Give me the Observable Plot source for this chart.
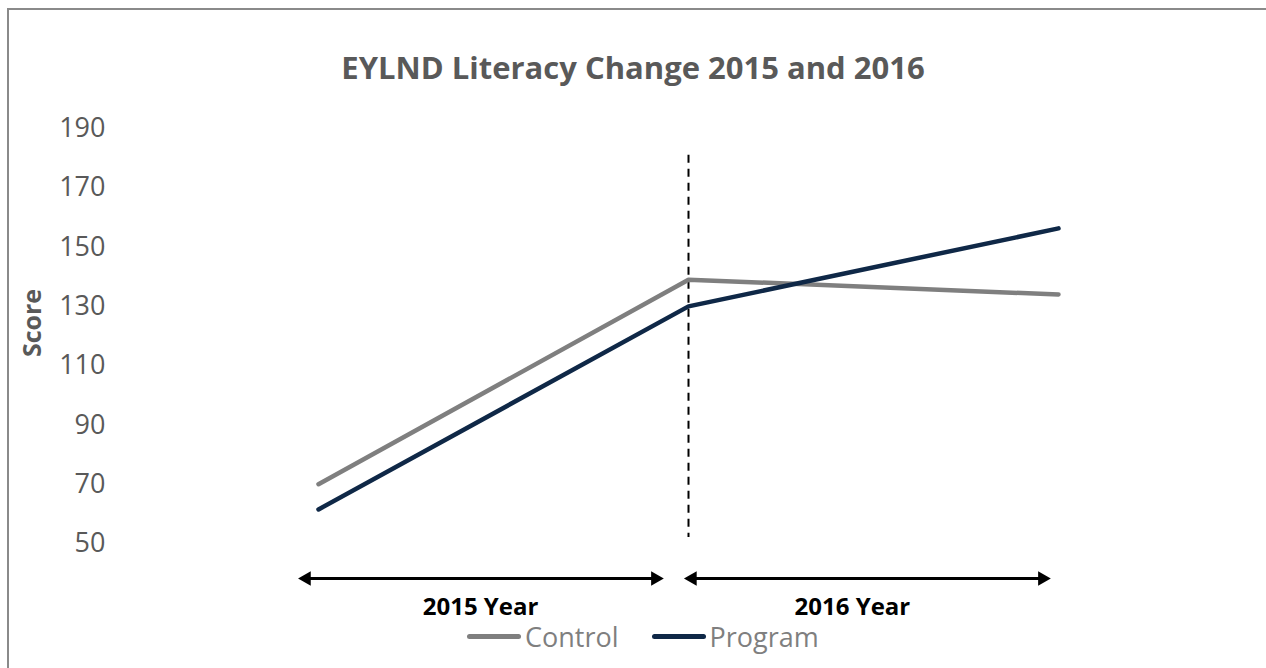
<!DOCTYPE html>
<html>
<head>
<meta charset="utf-8">
<script src="https://cdn.jsdelivr.net/npm/d3@7"></script>
<script src="https://cdn.jsdelivr.net/npm/@observablehq/plot@0.6"></script>
<style>
  html, body { margin: 0; padding: 0; background: #fff; }
  body { width: 1266px; height: 668px; position: relative; overflow: hidden; font-family: "Open Sans", sans-serif; }
  #frame { position: absolute; left: 7px; top: 8px; width: 1300px; height: 700px; border-top: 2px solid #8a8a8a; border-left: 2px solid #8a8a8a; }
  #title { position: absolute; left: 0; width: 1266px; top: 46px; text-align: center; font-weight: bold; font-size: 31px; color: #595959; }
  #chart { position: absolute; left: 0; top: 0; }
  #legend { position: absolute; top: 618px; left: 467px; display: flex; align-items: center; font-size: 27px; color: #7f7f7f; }
  .sw { display: inline-block; width: 54px; height: 5px; border-radius: 3px; margin-right: 4px; }
  .item { display: flex; align-items: center; margin-right: 33px; }
</style>
</head>
<body>
<div id="frame"></div>
<div id="title">EYLND Literacy Change 2015 and 2016</div>
<div id="chart"></div>
<div id="legend"></div>
<script>
// ---- data ----
const timePoints = [0, 1, 2];           // start 2015, end 2015 / start 2016, end 2016
const seriesNames = ["Control", "Program"];
const controlScores = [70, 139, 134];
const programScores = [61.5, 130, 156.3];
const seriesColors = ["#7f7f7f", "#0f2847"];
const yTicks = [50, 70, 90, 110, 130, 150, 170, 190];
const periodLabels = ["2015 Year", "2016 Year"];
const periodStart = [-0.054, 0.989];
const periodEnd = [0.932, 1.978];
const periodLabelX = [0.438, 1.443];
const dividerX = [1];

// ---- build tables ----
const rows = [];
timePoints.forEach((t, i) => {
  rows.push({t, score: controlScores[i], series: "Control"});
});
timePoints.forEach((t, i) => {
  rows.push({t, score: programScores[i], series: "Program"});
});
const periods = periodLabels.map((label, i) => ({label, x1: periodStart[i], x2: periodEnd[i], lx: periodLabelX[i]}));

const arrowY = 38.2;
const labelY = 28.6;

const chart = Plot.plot({
  width: 1266,
  height: 668,
  marginLeft: 115,
  marginRight: 208,
  marginTop: 128,
  marginBottom: 125,
  style: {fontFamily: "'Open Sans', sans-serif", background: "transparent", overflow: "visible"},
  x: {domain: [0, 2], insetLeft: 203, axis: null},
  y: {domain: [50, 190], axis: null},
  color: {domain: seriesNames, range: seriesColors},
  marks: [
    Plot.axisY(yTicks, {tickSize: 0, tickPadding: 10, fontSize: 27, color: "#595959", label: null}),
    Plot.text(["Score"], {frameAnchor: "left", textAnchor: "middle", rotate: -90, dx: -83, dy: -13, fontSize: 25, fontWeight: "bold", fill: "#595959"}),
    Plot.ruleX(dividerX, {y1: 181, y2: 52, stroke: "#000", strokeWidth: 2, strokeDasharray: "8,6"}),
    Plot.line(rows, {x: "t", y: "score", z: "series", stroke: "series", strokeWidth: 4.5, curve: "linear"}),
    Plot.link(periods, {x1: d => d.x1 + 0.03, x2: d => d.x2 - 0.03, y1: arrowY, y2: arrowY, stroke: "#000", strokeWidth: 3, clip: false}),
    Plot.dot(periods, {x: "x1", y: arrowY, symbol: "triangle2", r: 7, rotate: -90, fill: "#000", dx: 8}),
    Plot.dot(periods, {x: "x2", y: arrowY, symbol: "triangle2", r: 7, rotate: 90, fill: "#000", dx: -8}),
    Plot.text(periods, {x: "lx", y: labelY, text: "label", fontSize: 24, fontWeight: "bold", fill: "#000"})
  ]
});
document.getElementById("chart").appendChild(chart);

// legend
const legend = document.getElementById("legend");
seriesNames.forEach((name, i) => {
  const item = document.createElement("div");
  item.className = "item";
  const sw = document.createElement("span");
  sw.className = "sw";
  sw.style.background = seriesColors[i];
  item.appendChild(sw);
  const tx = document.createElement("span");
  tx.textContent = name;
  item.appendChild(tx);
  legend.appendChild(item);
});
</script>
</body>
</html>
